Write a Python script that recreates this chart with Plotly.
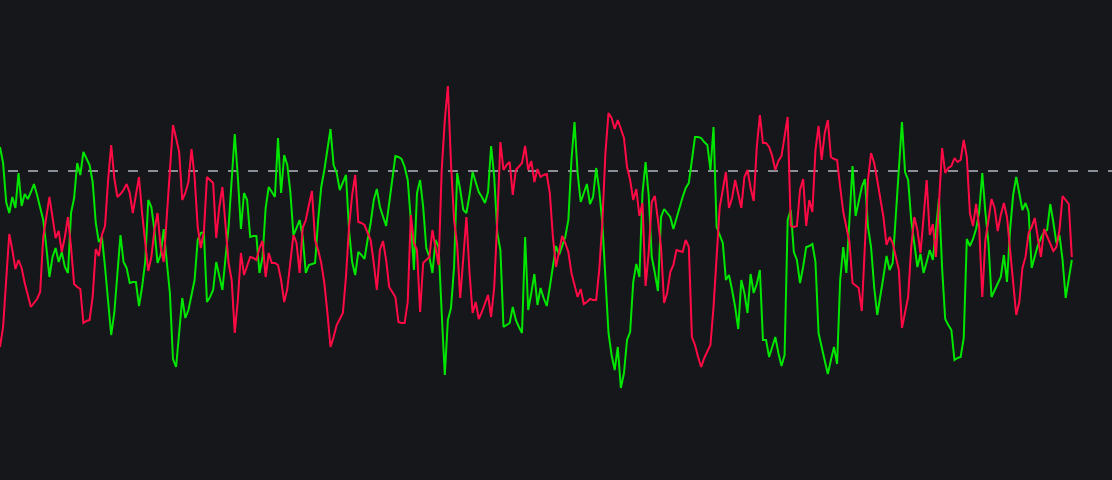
import plotly.graph_objects as go

# Two oscillating series (value units), 348 samples each
green_series = [
    333, 317, 278, 267, 283, 272, 307, 274, 286, 281, 288, 296, 285, 273, 260, 233, 203, 223, 232, 218,
    228, 213, 207, 267, 282, 317, 305, 328, 322, 315, 298, 257, 238, 243, 213, 180, 145, 167, 207, 245,
    218, 212, 197, 198, 198, 174, 193, 218, 280, 273, 250, 217, 225, 251, 218, 187, 121, 113, 147, 182,
    162, 170, 185, 200, 240, 247, 248, 178, 183, 190, 218, 203, 190, 222, 253, 300, 346, 303, 251, 287,
    280, 243, 244, 244, 207, 223, 272, 293, 288, 283, 342, 287, 325, 315, 288, 245, 252, 260, 243, 207,
    215, 216, 217, 260, 293, 310, 333, 351, 315, 307, 290, 297, 305, 250, 218, 205, 228, 225, 221, 240,
    257, 280, 291, 273, 263, 254, 277, 300, 324, 323, 321, 313, 300, 260, 210, 287, 300, 273, 232, 223,
    207, 240, 233, 167, 105, 160, 172, 213, 307, 290, 270, 267, 285, 308, 297, 288, 283, 277, 288, 334,
    303, 247, 230, 153, 155, 157, 173, 160, 153, 147, 243, 170, 187, 206, 175, 192, 182, 174, 193, 213,
    234, 225, 233, 243, 260, 320, 358, 307, 278, 287, 296, 276, 283, 312, 290, 257, 203, 147, 125, 110,
    133, 92, 107, 140, 148, 198, 216, 203, 287, 318, 285, 223, 207, 189, 263, 271, 267, 263, 251, 262,
    273, 283, 292, 297, 320, 343, 343, 342, 338, 335, 310, 353, 253, 245, 237, 200, 205, 190, 173, 151,
    200, 187, 167, 206, 187, 196, 210, 140, 140, 123, 133, 143, 127, 114, 125, 260, 270, 228, 220, 197,
    213, 233, 234, 236, 218, 147, 133, 120, 106, 120, 133, 116, 200, 233, 207, 260, 314, 264, 277, 293,
    301, 253, 233, 193, 165, 183, 203, 224, 210, 217, 267, 320, 358, 308, 300, 260, 237, 213, 226, 207,
    218, 230, 220, 253, 282, 212, 161, 155, 150, 120, 122, 123, 142, 241, 234, 241, 251, 268, 307, 268,
    237, 183, 190, 197, 203, 225, 198, 250, 285, 303, 288, 270, 277, 268, 212, 225, 235, 242, 248, 250,
    276, 258, 237, 245, 220, 182, 200, 220,
]

red_series = [
    133, 153, 200, 246, 230, 211, 220, 212, 197, 185, 173, 177, 181, 188, 243, 263, 283, 263, 242, 249,
    228, 243, 263, 233, 196, 193, 191, 157, 159, 160, 183, 231, 224, 245, 254, 300, 335, 302, 283, 286,
    290, 296, 287, 267, 285, 303, 267, 240, 209, 223, 250, 267, 233, 218, 267, 317, 355, 342, 328, 280,
    287, 298, 331, 303, 253, 232, 248, 303, 300, 297, 242, 273, 293, 253, 217, 200, 147, 180, 227, 205,
    213, 223, 222, 220, 232, 239, 203, 227, 217, 217, 215, 200, 178, 191, 218, 245, 237, 207, 252, 260,
    275, 289, 240, 230, 217, 197, 167, 133, 143, 155, 161, 167, 203, 253, 285, 305, 258, 257, 255, 247,
    240, 217, 190, 230, 239, 220, 193, 188, 183, 158, 157, 157, 178, 265, 237, 230, 168, 217, 220, 223,
    250, 233, 215, 310, 360, 394, 317, 260, 235, 182, 220, 263, 207, 167, 178, 161, 168, 177, 185, 163,
    193, 260, 338, 310, 315, 318, 285, 310, 313, 317, 334, 310, 319, 298, 311, 303, 305, 306, 287, 243,
    213, 230, 244, 237, 228, 207, 195, 183, 191, 176, 178, 181, 180, 180, 210, 257, 327, 367, 362, 351,
    360, 352, 342, 313, 300, 280, 291, 264, 277, 194, 227, 278, 284, 260, 233, 177, 187, 208, 215, 230,
    229, 228, 240, 233, 143, 135, 123, 113, 122, 128, 135, 173, 223, 273, 290, 308, 272, 282, 300, 287,
    272, 303, 310, 292, 279, 333, 365, 337, 337, 333, 324, 310, 319, 324, 345, 363, 254, 253, 254, 290,
    301, 254, 280, 268, 330, 354, 320, 347, 360, 323, 321, 320, 293, 268, 253, 238, 197, 194, 192, 169,
    237, 300, 327, 317, 300, 283, 263, 235, 243, 237, 223, 210, 152, 167, 183, 233, 263, 250, 227, 263,
    300, 245, 256, 223, 283, 332, 307, 312, 314, 322, 318, 320, 340, 323, 267, 254, 276, 253, 183, 240,
    260, 281, 272, 249, 265, 277, 263, 230, 200, 165, 178, 212, 223, 247, 253, 262, 242, 223, 251, 243,
    237, 229, 233, 250, 284, 280, 276, 223,
]

threshold_level = 309
sample_index = list(range(len(green_series)))

BG = "#16171b"

fig = go.Figure()
fig.add_trace(go.Scatter(
    x=sample_index, y=green_series, mode="lines",
    line=dict(color="#00e600", width=2), hoverinfo="skip", showlegend=False,
))
fig.add_trace(go.Scatter(
    x=sample_index, y=red_series, mode="lines",
    line=dict(color="#ff0a45", width=2), hoverinfo="skip", showlegend=False,
))

fig.add_shape(
    type="line", xref="paper", yref="y",
    x0=8 / 1112, x1=1, y0=threshold_level, y1=threshold_level,
    line=dict(color="#8a8e98", width=2, dash="10px,10px"),
    layer="below",
)

fig.update_layout(
    width=1112, height=480, autosize=False,
    margin=dict(l=0, r=0, t=0, b=0, pad=0),
    paper_bgcolor=BG, plot_bgcolor=BG,
    xaxis=dict(range=[0, 360], visible=False, showgrid=False, zeroline=False, fixedrange=True),
    yaxis=dict(range=[0, 480], visible=False, showgrid=False, zeroline=False, fixedrange=True),
    hovermode=False,
)

fig.write_html(
    "out.html",
    config={"displayModeBar": False, "staticPlot": True},
    post_script="document.body.style.margin='0';document.body.style.background='" + BG + "';document.body.style.overflow='hidden';",
)
